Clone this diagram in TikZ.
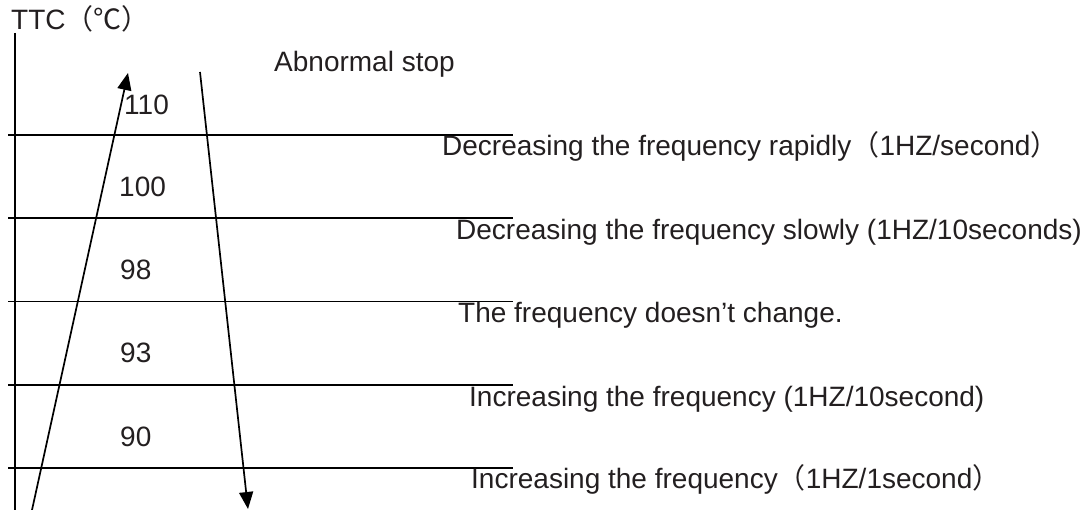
\documentclass[tikz,border=0pt]{standalone}
\usepackage{fontspec}
\setmainfont{Liberation Sans}
\newfontfamily\cjk{Noto Sans CJK SC}
\usetikzlibrary{arrows.meta}
\definecolor{ink}{HTML}{231F20}
\tikzset{
  lbl/.style={anchor=base west, inner sep=0pt, font=\fontsize{28}{34}\selectfont, text=ink},
  axisline/.style={line width=1.8pt, black},
  bandline/.style={line width=1.8pt, black},
  flow/.style={line width=1.7pt, black, -{Triangle[length=17pt,width=14pt]}}
}
\begin{document}
\begin{tikzpicture}[x=1pt,y=-1pt]
\useasboundingbox (0,0) rectangle (1088,510);
% axis
\coordinate (axTop) at (15,33);
\coordinate (axBot) at (15,510);
\draw[axisline] (axTop) -- (axBot);
\node[lbl] (ttc) at (11,30) {TTC{\cjk （℃）}};
% band lines
\foreach \i/\y in {1/135,2/218,3/301.5,4/385,5/468}{
  \coordinate (L\i a) at (8,\y);
  \coordinate (L\i b) at (513,\y);
  \draw[bandline] (L\i a) -- (L\i b);
}
% temperature labels
\node[lbl] (t110) at (124,115) {110};
\node[lbl] (t100) at (119,197) {100};
\node[lbl] (t98) at (120,280) {98};
\node[lbl] (t93) at (120,363) {93};
\node[lbl] (t90) at (120,447) {90};
% right texts
\node[lbl] (abn) at (274,72) {Abnormal stop};
\node[lbl] (r1) at (442,156) {Decreasing the frequency rapidly{\cjk （}1HZ/second{\cjk ）}};
\node[lbl] (r2) at (456,240) {Decreasing the frequency slowly (1HZ/10seconds)};
\node[lbl] (r3) at (458,323) {The frequency doesn’t change.};
\node[lbl] (r4) at (469,407) {Increasing the frequency (1HZ/10second)};
\node[lbl] (r5) at (471,489) {Increasing the frequency{\cjk （}1HZ/1second{\cjk ）}};
% arrows
\coordinate (upS) at (32,510);
\coordinate (upE) at (128,73);
\coordinate (dnS) at (200,72);
\coordinate (dnE) at (248,509);
\draw[flow] (upS) -- (upE);
\draw[flow] (dnS) -- (dnE);
\end{tikzpicture}
\end{document}
